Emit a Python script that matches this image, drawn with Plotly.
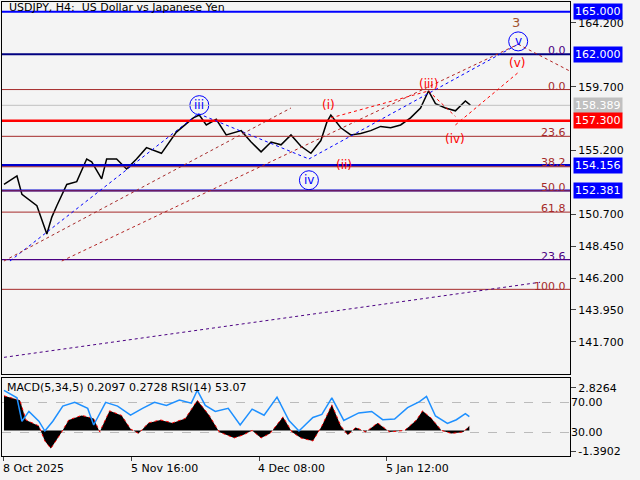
import plotly.graph_objects as go

# price path (bar position, close)
px_x = [2,15,20,35,45,50,55,60,65,75,85,90,100,105,115,125,135,145,160,175,185,192,198,205,215,225,240,250,260,270,280,290,300,310,320,326,330,340,350,360,370,380,390,400,410,420,428,435,445,455,465,470]
px_y = [152.8,153.4,152.1,151.3,149.3,150.5,151.3,152.1,152.8,153.0,154.6,154.4,153.2,154.6,154.6,153.9,154.6,155.4,155.0,156.5,157.1,157.5,157.7,157.0,157.4,156.3,156.6,155.8,155.1,155.8,155.6,156.3,155.5,155.0,155.9,157.2,157.7,156.8,156.3,156.4,156.6,156.9,156.8,157.0,157.5,158.2,159.4,158.5,158.2,158.0,158.7,158.4]

macd_x = [2,18,24,37,43,49,59,67,80,92,98,108,120,129,137,147,159,171,184,196,208,218,233,242,251,260,269,282,291,300,312,321,331,340,347,355,365,377,389,404,416,422,431,441,451,463,469]
macd_v = [2.3,2.0,0.7,0.3,-0.7,-1.2,-0.2,0.7,1.0,0.8,-0.1,1.3,1.0,0.1,-0.2,0.5,0.7,0.5,0.8,2.0,1.0,-0.1,-0.5,-0.3,0.0,-0.5,-0.2,0.9,-0.1,-0.5,-0.7,0.3,1.7,0.3,-0.3,0.2,-0.1,0.5,-0.1,0.0,0.7,1.3,0.8,0.0,-0.2,-0.1,0.3]

rsi_x = [2,15,20,27,37,43,51,61,73,86,92,104,116,129,141,153,165,178,190,196,204,214,227,239,251,263,276,288,298,312,321,331,343,358,371,382,394,407,419,426,435,447,456,465,469]
rsi_v = [86,76,45,58,45,32,45,65,70,62,40,70,65,53,62,70,66,73,69,86,66,58,62,40,61,53,77,46,32,50,54,76,46,56,58,47,48,63,71,78,52,42,47,55,51]

h_levels = [165.0, 162.0, 159.5, 158.389, 157.3, 156.2, 154.156, 154.05, 152.381, 152.35, 150.85, 147.5, 145.4]
h_colors = ["#0000ff","#000080","#a52a2a","#c0c0c0","#ff0000","#a52a2a","#0000cd","#a52a2a","#0000cd","#a52a2a","#a52a2a","#4b0082","#a52a2a"]
h_widths = [2,2,1,1,2.5,1,2.5,1,2,1,1,1.2,1]

fib_text = ["0.0","0.0","23.6","38.2","50.0","61.8","23.6","100.0"]
fib_price = [162.25,159.75,156.45,154.35,152.6,151.1,147.75,145.6]
fib_color = ["#4b0082","#a52a2a","#a52a2a","#a52a2a","#a52a2a","#a52a2a","#4b0082","#a52a2a"]

box_text = ["165.000","162.000","158.389","157.300","154.156","152.381"]
box_price = [165.0,162.0,158.389,157.3,154.156,152.381]
box_color = ["#0000ff","#0000ff","#c0c0c0","#ff0000","#0000ff","#0000ff"]

price_ticks = [164.2,159.7,155.2,150.7,148.45,146.2,143.95,141.7]
x_tickvals = [2,130,258,386]
x_ticktext = ["8 Oct 2025","5 Nov 16:00","4 Dec 08:00","5 Jan 12:00"]

fig = go.Figure()
fig.add_trace(go.Scatter(x=px_x, y=px_y, mode="lines", line=dict(color="black", width=1.5), xaxis="x", yaxis="y"))
fig.add_trace(go.Scatter(x=macd_x, y=macd_v, mode="lines", fill="tozeroy", fillcolor="black",
                         line=dict(color="red", width=1, dash="dot"), xaxis="x2", yaxis="y2"))
fig.add_trace(go.Scatter(x=rsi_x, y=rsi_v, mode="lines", line=dict(color="#1e90ff", width=1.5), xaxis="x2", yaxis="y3"))

shapes = []
for lv, c, w in zip(h_levels, h_colors, h_widths):
    shapes.append(dict(type="line", xref="x", yref="y", x0=0, x1=570, y0=lv, y1=lv, line=dict(color=c, width=w)))
def seg(pts, color):
    for (a, b), (c, d) in zip(pts[:-1], pts[1:]):
        shapes.append(dict(type="line", xref="x", yref="y", x0=a, y0=b, x1=c, y1=d, line=dict(color=color, width=1, dash="dot")))
seg([(8,147.4),(197,157.8),(308,154.6),(518,162.7)], "blue")
seg([(2,147.4),(290,158.2)], "#a52a2a")
seg([(60,147.4),(518,162.7),(570,160.8)], "#b22222")
seg([(330,157.5),(428,159.4),(455,157.6)], "red")
seg([(455,157.0),(518,160.7)], "red")
seg([(2,140.6),(540,145.9)], "#4b0082")
fig.update_layout(shapes=shapes)

ann = [dict(x=5, y=165.3, xref="x", yref="y", text="USDJPY, H4:  US Dollar vs Japanese Yen", showarrow=False,
            xanchor="left", font=dict(size=11, color="black"))]
for tv, tt in zip(x_tickvals, x_ticktext):
    ann.append(dict(x=tv, xref="x2", y=0, yref="paper", text=tt, showarrow=False, xanchor="left",
                    yanchor="top", yshift=-2, xshift=-3, font=dict(size=11, color="black")))
for t, p, c in zip(fib_text, fib_price, fib_color):
    ann.append(dict(x=568, y=p, xref="x", yref="y", text=t, showarrow=False, xanchor="right", font=dict(size=11, color=c)))
for t, p, c in zip(box_text, box_price, box_color):
    ann.append(dict(x=1.0, xref="paper", y=p, yref="y", text=t, showarrow=False, xanchor="left", bgcolor=c,
                    font=dict(size=11, color="white"), borderpad=1, xshift=3))
waves = [("iii",198,158.4,"blue",True),("iv",308,153.1,"blue",True),("v",518,162.9,"blue",True),
         ("(i)",328,158.4,"red",False),("(ii)",343,154.2,"red",False),("(iii)",428,159.9,"red",False),
         ("(iv)",455,156.0,"red",False),("(v)",517,161.4,"red",False),("3",516,164.2,"#a0522d",False)]
circ_x, circ_y = [], []
for t, x, y, c, circ in waves:
    ann.append(dict(x=x, y=y, xref="x", yref="y", text=t, showarrow=False,
                    font=dict(size=13 if t == "3" else 12, color=c)))
    if circ:
        circ_x.append(x); circ_y.append(y)
fig.add_trace(go.Scatter(x=circ_x, y=circ_y, mode="markers", xaxis="x", yaxis="y", hoverinfo="skip",
                         marker=dict(symbol="circle-open", size=19, color="blue", line=dict(width=1))))
ann.append(dict(x=3, y=3.4, xref="x2", yref="y2", text="MACD(5,34,5) 0.2097 0.2728 RSI(14) 53.07", showarrow=False,
                xanchor="left", yanchor="top", font=dict(size=11, color="black")))
fig.update_layout(annotations=ann)

fig.update_layout(
    width=640, height=480, margin=dict(l=2, r=70, t=2, b=22), showlegend=False,
    paper_bgcolor="#f4f4f4", plot_bgcolor="#f4f4f4", font=dict(family="DejaVu Sans", size=11, color="black"),
    xaxis=dict(range=[0, 570], domain=[0, 1], showticklabels=False, showgrid=False, zeroline=False,
               showline=True, mirror=True, linecolor="black", anchor="y"),
    yaxis=dict(range=[139.45, 165.68], domain=[0.185, 1], side="right", tickvals=price_ticks, ticks="outside",
               tickformat=".3f", showgrid=False, zeroline=False, showline=True, mirror=True, linecolor="black"),
    xaxis2=dict(range=[0, 570], domain=[0, 1], tickvals=x_tickvals, showticklabels=False, ticks="outside",
                ticklen=4, showgrid=False, zeroline=False, showline=True, mirror=True, linecolor="black", anchor="y2"),
    yaxis2=dict(range=[-1.68, 3.47], domain=[0.005, 0.175], side="right", tickvals=[2.8264, -1.3902],
                ticktext=["2.8264", "-1.3902"], ticks="outside", showgrid=False, zeroline=False,
                showline=True, mirror=True, linecolor="black", anchor="x2"),
    yaxis3=dict(range=[-0.7, 102], overlaying="y2", side="right", tickvals=[70, 30], ticktext=["70.00", "30.00"],
                showgrid=True, gridcolor="#bbbbbb", griddash="dash", zeroline=False, anchor="x2"),
)
fig.write_html("out.html", config={"displayModeBar": False},
               post_script="document.body.style.margin='0';document.body.style.background='#f4f4f4';")
